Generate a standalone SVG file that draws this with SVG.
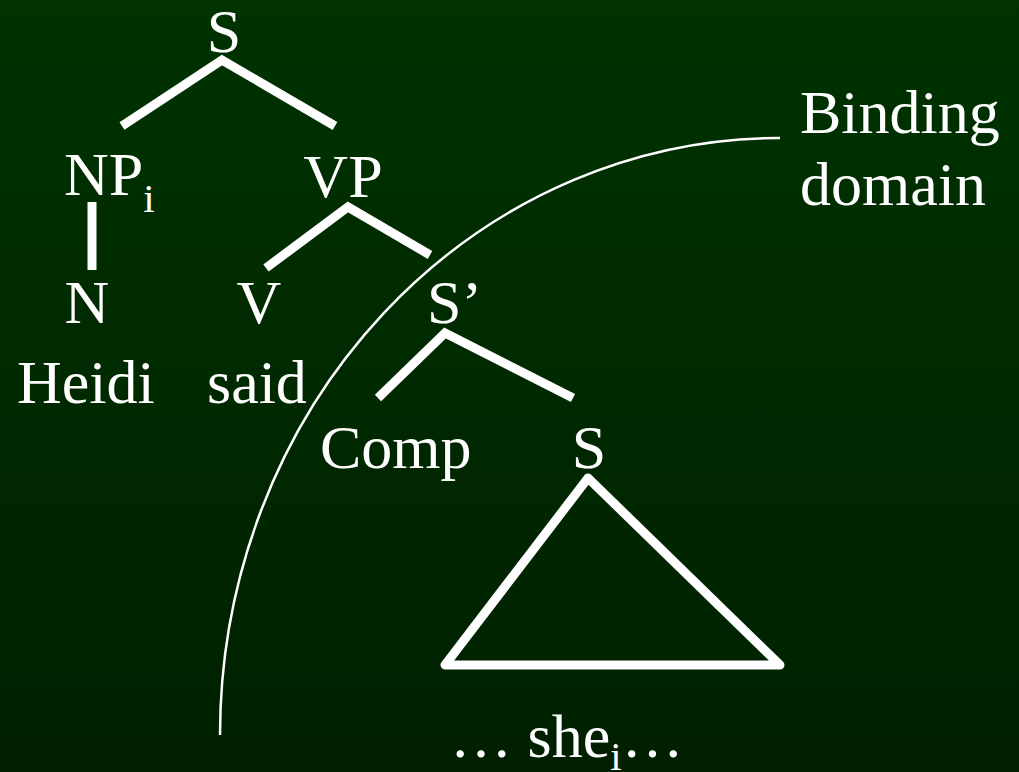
<svg xmlns="http://www.w3.org/2000/svg" width="1019" height="772" viewBox="0 0 1019 772">
<defs>
<linearGradient id="bg" x1="0" y1="0" x2="0" y2="1">
<stop offset="0" stop-color="#003300"/>
<stop offset="1" stop-color="#002000"/>
</linearGradient>
<style>
text{font-family:"Liberation Serif","Times New Roman",serif;fill:#fff;font-size:62px}
.c{text-anchor:middle}
.sub{font-size:41px}
.br{stroke:#fff;stroke-width:9;fill:none;stroke-linecap:butt}
.arc{stroke:#fff;stroke-width:2.5;fill:none}
</style>
</defs>
<rect width="1019" height="772" fill="url(#bg)"/>
<g id="connectors">
<polyline class="br" points="122,126 222,60 335,126"/>
<line class="br" x1="92" y1="202" x2="92" y2="270"/>
<polyline class="br" points="266,268 348,207 430,255"/>
<polyline class="br" points="378,398 445,333 573,398"/>
<polygon class="br" points="588,478 445,665 780,665" stroke-linejoin="round"/>
<path class="arc" d="M220,735 A560,597 0 0 1 780,138"/>
</g>
<g id="S"><text class="c" x="224" y="52">S</text></g>
<g id="NP"><text x="64" y="195">NP<tspan class="sub" dy="17">i</tspan></text></g>
<g id="VP"><text class="c" x="343" y="197">VP</text></g>
<g id="N"><text class="c" x="87" y="323">N</text></g>
<g id="V"><text class="c" x="259" y="323">V</text></g>
<g id="Sbar"><text x="427" y="323">S’</text></g>
<g id="Heidi"><text x="17" y="403">Heidi</text></g>
<g id="said"><text x="207" y="403">said</text></g>
<g id="Comp"><text x="320" y="468">Comp</text></g>
<g id="S2"><text class="c" x="589" y="468">S</text></g>
<g id="she"><text x="450" y="757">… she<tspan class="sub" dy="13">i</tspan><tspan dy="-13">…</tspan></text></g>
<g id="binding"><text x="800" y="133">Binding</text><text x="800" y="205">domain</text></g>
</svg>
